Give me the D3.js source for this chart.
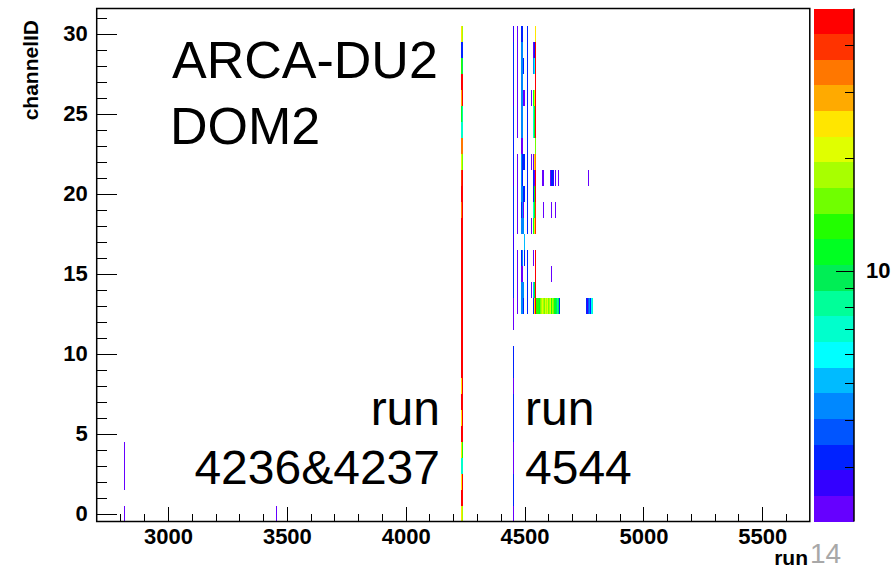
<!DOCTYPE html>
<html>
<head>
<meta charset="utf-8">
<script src="https://cdn.jsdelivr.net/npm/d3@7"></script>
<style>
  html, body { margin: 0; padding: 0; background: #fff; }
  svg { display: block; }
  text { font-family: "Liberation Sans", Arial, Helvetica, sans-serif; }
</style>
</head>
<body>
<svg id="chart" width="894" height="568"></svg>
<script>
// ---- axis ranges and ticks ----
const runRange = [2700, 5700];
const channelRange = [-0.5, 31.5625];
const rateRange = [2.14, 50];
const xMajorTicks = [3000, 3500, 4000, 4500, 5000, 5500];
const yMajorTicks = [0, 5, 10, 15, 20, 25, 30];
const zMinorTicks = [3, 4, 5, 6, 7, 8, 9, 20, 30, 40];
const zMajorTicks = [10];

// 20-level rainbow palette, lowest level first
const palette = ['#6600ff', '#3300ff', '#0022ff', '#0055ff', '#0088ff', '#00bbff', '#00ffff',
  '#00ffcc', '#00ff99', '#00ee55', '#00ff22', '#22ff00', '#70ff00', '#a8ff00', '#e0ff00',
  '#ffe600', '#ffaa00', '#ff7700', '#ff3300', '#ff0000'];

// runs with entries in many channels: one value per channel 0..30 (0 = empty bin)
const columnRuns = [4236, 4237, 4453, 4470, 4487, 4491, 4495, 4500, 4512, 4529, 4537, 4542, 4544];
const columnRates = [
  [24.5, 45, 23.8, 7.1, 24.2, 47, 25, 46, 24.6, 44, 47, 45, 48, 46, 44, 47, 45, 46, 48, 34, 46, 39, 21, 33, 7, 11, 29, 47, 13, 3.2, 24.5],
  [18, 45, 44, 7.2, 13, 47, 45, 48, 44, 46, 47, 45, 48, 46, 44, 47, 45, 46, 48, 45, 47, 46, 15.5, 33, 6.8, 8.4, 45, 47, 9.6, 3.1, 17.5],
  [2.3, 3.2, 3.1, 2.4, 2.3, 3.3, 3.0, 3.2, 2.4, 3.1, 3.2, 0, 2.3, 2.4, 3.1, 3.2, 3.0, 2.6, 3.1, 3.2, 3.0, 2.7, 3.1, 3.2, 3.0, 3.1, 2.8, 3.2, 3.1, 3.0, 2.8],
  [0, 0, 0, 0, 0, 0, 0, 0, 0, 0, 0, 0, 0, 2.3, 2.4, 2.3, 2.4, 0, 2.3, 2.4, 2.3, 2.3, 2.4, 0, 2.3, 2.4, 2.3, 2.3, 2.4, 2.3, 2.4],
  [0, 0, 0, 0, 0, 0, 0, 0, 0, 0, 0, 0, 0, 4.3, 4.4, 2.3, 3.2, 0, 4.2, 3.3, 4.5, 4.3, 4.4, 2.4, 4.2, 4.4, 4.3, 4.5, 4.2, 4.4, 3.2],
  [0, 0, 0, 0, 0, 0, 0, 0, 0, 0, 0, 0, 0, 4.4, 4.3, 2.3, 4.2, 0, 4.4, 4.3, 4.2, 3.2, 3.3, 2.3, 4.4, 4.3, 4.4, 4.2, 4.3, 4.5, 3.1],
  [0, 0, 0, 0, 0, 0, 0, 0, 0, 0, 0, 0, 0, 3.2, 4.2, 0, 0, 0, 4.3, 2.4, 3.2, 0, 3.1, 0, 0, 0, 2.3, 0, 3.3, 0, 0],
  [0, 0, 0, 0, 0, 0, 0, 0, 0, 0, 0, 0, 0, 0, 0, 0, 3.2, 5.2, 0, 0, 3.1, 0, 3.2, 0, 0, 0, 2.4, 0, 0, 0, 0],
  [0, 0, 0, 0, 0, 0, 0, 0, 0, 0, 0, 0, 0, 3.1, 3.2, 3.0, 3.2, 0, 3.1, 3.2, 3.0, 3.2, 3.1, 3.3, 3.2, 3.0, 3.1, 3.2, 3.1, 3.2, 3.0],
  [0, 0, 0, 0, 0, 0, 0, 0, 0, 0, 0, 0, 0, 0, 2.3, 0, 0, 0, 2.4, 0, 0, 0, 2.3, 0, 0, 0, 2.3, 0, 0, 0, 0],
  [0, 0, 0, 0, 0, 0, 0, 0, 0, 0, 0, 0, 0, 3.2, 5.1, 0, 2.3, 0, 11, 7.2, 3.2, 3.3, 2.4, 0, 7, 7.3, 11.5, 0, 4.3, 2.3, 0],
  [0, 0, 0, 0, 0, 0, 0, 0, 0, 0, 0, 0, 0, 24, 11, 0, 0, 0, 24.5, 12, 11.5, 2.3, 24, 0, 11, 10.8, 21, 0, 6, 3.2, 0],
  [0, 0, 0, 0, 0, 0, 0, 0, 0, 0, 0, 0, 0, 45, 46, 44, 47, 0, 40, 38, 44, 46, 34, 15.5, 45, 46, 45, 47, 45, 46, 24]
];

// isolated entries: run, channel and value of each filled bin
const hitRuns = [2817, 2817, 2817, 2817, 3456,
  4550, 4554, 4558, 4563, 4567, 4571, 4575, 4579, 4584, 4588, 4592, 4596, 4600, 4605, 4609, 4613,
  4617, 4621, 4626, 4630, 4634, 4638, 4642, 4647,
  4761, 4765, 4769, 4773, 4777, 4782, 4786,
  4613,
  4579, 4613, 4630,
  4575, 4579, 4609, 4613, 4617, 4621, 4630, 4642, 4769];
const hitChannels = [0, 2, 3, 4, 0,
  13, 13, 13, 13, 13, 13, 13, 13, 13, 13, 13, 13, 13, 13, 13, 13,
  13, 13, 13, 13, 13, 13, 13, 13,
  13, 13, 13, 13, 13, 13, 13,
  15,
  19, 19, 19,
  21, 21, 21, 21, 21, 21, 21, 21, 21];
const hitRates = [2.3, 2.3, 2.4, 2.3, 2.3,
  13, 13.5, 12.5, 11, 15.5, 18, 21, 18, 15, 21, 19, 21, 16, 18, 20, 13,
  17, 15.5, 11, 12, 9.5, 8.2, 10, 3.2,
  3.2, 2.7, 3.7, 4.3, 3.2, 6, 7,
  2.3,
  2.3, 2.3, 2.4,
  2.3, 2.4, 2.3, 3.2, 3.1, 2.7, 2.3, 2.4, 2.3];

// ---- layout ----
const svg = d3.select('#chart');
const frame = { left: 96.7, right: 809.8, top: 8.5, bottom: 521.5 };
const bar = { left: 813.5, right: 854 };
const font = '"Liberation Sans", Arial, Helvetica, sans-serif';

const x = d3.scaleLinear().domain(runRange).range([frame.left, frame.right]);
const y = d3.scaleLinear().domain(channelRange).range([frame.bottom, frame.top]);
const z = d3.scaleLog().domain(rateRange).range([frame.bottom, frame.top]);
// log-spaced colour levels between the z limits
const level = d3.scaleQuantize()
  .domain([Math.log10(rateRange[0]), Math.log10(rateRange[1])])
  .range(palette);

svg.append('rect').attr('width', 894).attr('height', 568).attr('fill', '#fff');

// ---- histogram bins ----
const cells = [];
columnRuns.forEach((run, i) => {
  columnRates[i].forEach((v, ch) => { if (v > 0) cells.push({ run, ch, v }); });
});
hitRuns.forEach((run, i) => cells.push({ run, ch: hitChannels[i], v: hitRates[i] }));

svg.append('g')
  .selectAll('rect')
  .data(cells.filter(d => d.v >= rateRange[0]))
  .join('rect')
  .attr('x', d => Math.floor(x(d.run)))
  .attr('width', 1)
  .attr('y', d => y(d.ch + 0.5))
  .attr('height', d => y(d.ch - 0.5) - y(d.ch + 0.5))
  .attr('fill', d => level(Math.log10(Math.min(d.v, rateRange[1] * 0.999))))
  .attr('shape-rendering', 'crispEdges');

// ---- axes ----
function styleAxis(g) {
  g.select('.domain').remove();
  g.selectAll('line').attr('stroke', '#000').attr('stroke-width', 1).attr('shape-rendering', 'crispEdges');
  g.selectAll('text').attr('fill', '#000').attr('font-family', font)
    .attr('font-weight', 'bold').attr('font-size', 22);
}

const xMinor = d3.range(runRange[0] + 100, runRange[1], 100).filter(v => v % 500 !== 0);
svg.append('g').attr('transform', `translate(0,${frame.bottom})`)
  .call(d3.axisBottom(x).tickValues(xMinor).tickSize(-7.5).tickFormat(''))
  .call(styleAxis);
svg.append('g').attr('transform', `translate(0,${frame.bottom})`)
  .call(d3.axisBottom(x).tickValues(xMajorTicks).tickSize(-15).tickPadding(7).tickFormat(d3.format('d')))
  .call(styleAxis);

const yMinor = d3.range(0, 32).filter(v => v % 5 !== 0);
svg.append('g').attr('transform', `translate(${frame.left},0)`)
  .call(d3.axisLeft(y).tickValues(yMinor).tickSize(-10).tickFormat(''))
  .call(styleAxis);
svg.append('g').attr('transform', `translate(${frame.left},0)`)
  .call(d3.axisLeft(y).tickValues(yMajorTicks).tickSize(-20).tickPadding(9).tickFormat(d3.format('d')))
  .call(styleAxis);

// frame
svg.append('rect')
  .attr('x', frame.left).attr('y', frame.top)
  .attr('width', frame.right - frame.left).attr('height', frame.bottom - frame.top)
  .attr('fill', 'none').attr('stroke', '#000').attr('stroke-width', 1.5);

// ---- colour bar ----
svg.append('g')
  .selectAll('rect')
  .data(palette)
  .join('rect')
  .attr('x', bar.left)
  .attr('width', bar.right - bar.left)
  .attr('y', c => z(Math.pow(10, level.invertExtent(c)[1])))
  .attr('height', c => {
    const [lo, hi] = level.invertExtent(c);
    return z(Math.pow(10, lo)) - z(Math.pow(10, hi));
  })
  .attr('fill', c => c)
  .attr('shape-rendering', 'crispEdges');

svg.append('g').attr('transform', `translate(${bar.right},0)`)
  .call(d3.axisRight(z).tickValues(zMinorTicks).tickSize(-9).tickFormat(''))
  .call(styleAxis);
svg.append('g').attr('transform', `translate(${bar.right},0)`)
  .call(d3.axisRight(z).tickValues(zMajorTicks).tickSize(-18).tickPadding(12).tickFormat(d3.format('d')))
  .call(styleAxis);
svg.append('line')
  .attr('x1', bar.right).attr('x2', bar.right)
  .attr('y1', frame.top).attr('y2', frame.bottom)
  .attr('stroke', '#000').attr('stroke-width', 1.5);

// ---- axis titles ----
svg.append('text')
  .attr('transform', 'translate(38,20) rotate(-90)')
  .attr('text-anchor', 'end')
  .attr('font-family', font).attr('font-weight', 'bold').attr('font-size', 21)
  .text('channelID');
svg.append('text')
  .attr('x', 808).attr('y', 564.5)
  .attr('text-anchor', 'end')
  .attr('font-family', font).attr('font-weight', 'bold').attr('font-size', 21)
  .text('run');
svg.append('text')
  .attr('x', 810).attr('y', 563)
  .attr('font-family', font).attr('font-size', 28).attr('fill', '#a8a8a8')
  .text('14');

// ---- annotations ----
const note = (tx, ty, anchor, size, str) => svg.append('text')
  .attr('x', tx).attr('y', ty).attr('text-anchor', anchor)
  .attr('font-family', font).attr('font-size', size).attr('fill', '#000')
  .text(str);
note(172, 77.5, 'start', 52, 'ARCA-DU2');
note(170, 143.5, 'start', 52, 'DOM2');
note(440, 425, 'end', 48, 'run');
note(440, 484, 'end', 48, '4236&4237');
note(525, 425, 'start', 48, 'run');
note(525, 484, 'start', 48, '4544');
</script>
</body>
</html>
